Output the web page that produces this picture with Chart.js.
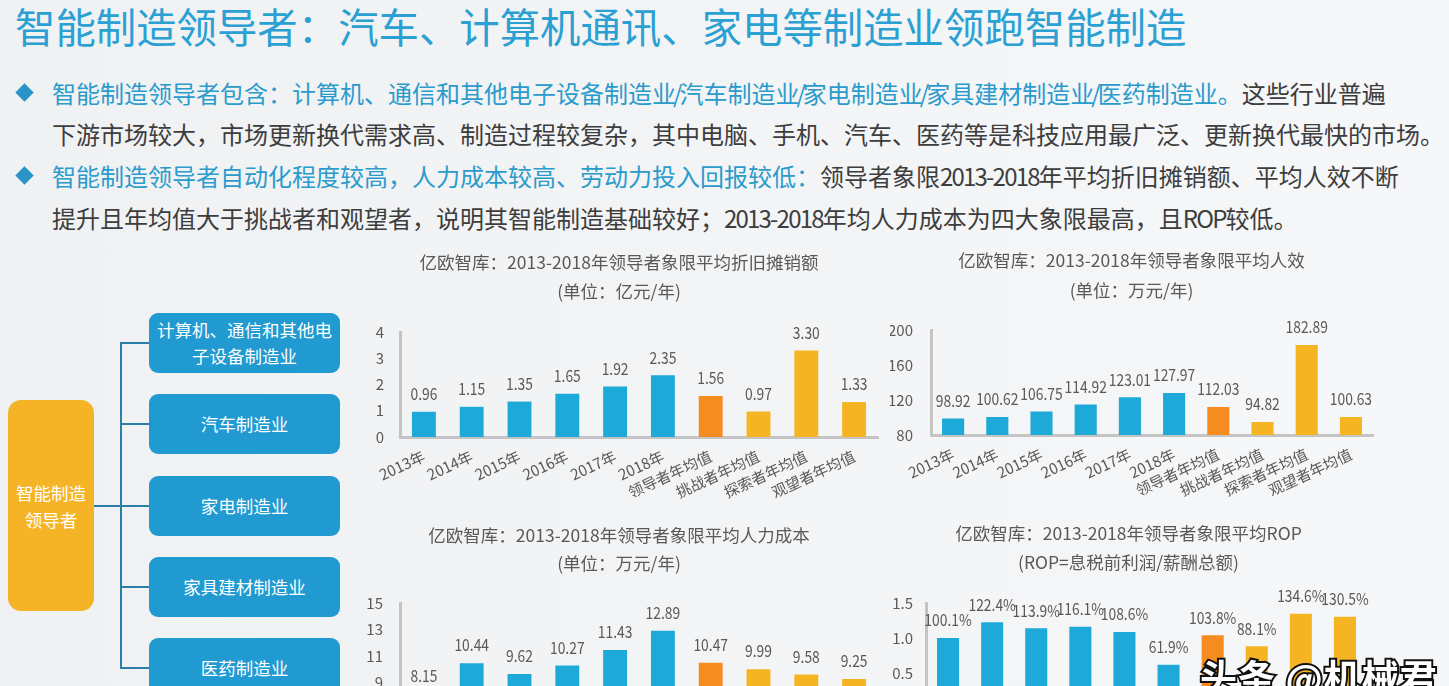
<!DOCTYPE html>
<html>
<head>
<meta charset="utf-8">
<script src="https://cdn.jsdelivr.net/npm/chart.js@4"></script>
<style>
  html, body { margin: 0; padding: 0; width: 1449px; height: 686px; overflow: hidden; }
  body {
    position: relative;
    background: linear-gradient(to right, #eff1f3, #f6f7f9);
    font-family: "Noto Sans CJK SC", sans-serif;
  }
  .abs { position: absolute; }
  .head { left: 15px; top: 0; height: 52px; line-height: 52px; font-size: 40.4px; color: #2aa0d3; white-space: nowrap; }
  .line { left: 52px; height: 42px; line-height: 42px; font-size: 24px; color: #3d3d3d; white-space: nowrap; }
  .line .hl { color: #2b9bcc; }
  .line .sl { margin: 0 -3px; }
  .line .nm { letter-spacing: -1.8px; }
  .dia { left: 18px; width: 13px; height: 13px; background: #2a93c8; transform: rotate(45deg); }
  .box { left: 149px; width: 191px; height: 60px; border-radius: 9px; background: #219ad1; color: #fff;
         font-size: 17.5px; display: flex; align-items: center; justify-content: center; text-align: center; line-height: 26px; }
  .root { left: 8px; top: 400px; width: 86px; height: 211px; border-radius: 13px; background: #f5b425; color: #fff;
          font-size: 17.5px; line-height: 27px; display: flex; align-items: center; justify-content: center; text-align: center; }
  .ln { background: #2b7fa6; }
  .cw { position: absolute; }
  .mark { left: 1200px; top: 649px; font-size: 37px; font-weight: bold; color: #fff; white-space: nowrap;
          -webkit-text-stroke: 4px #111; paint-order: stroke fill; letter-spacing: 1px; }
</style>
</head>
<body>
<div class="abs head">智能制造领导者：汽车、计算机通讯、家电等制造业领跑智能制造</div>

<div class="abs dia" style="top:86px"></div>
<div class="abs line" style="top:72px"><span class="hl">智能制造领导者包含：计算机、通信和其他电子设备制造业<span class="sl">/</span>汽车制造业<span class="sl">/</span>家电制造业<span class="sl">/</span>家具建材制造业<span class="sl">/</span>医药制造业。</span>这些行业普遍</div>
<div class="abs line" style="top:113px">下游市场较大，市场更新换代需求高、制造过程较复杂，其中电脑、手机、汽车、医药等是科技应用最广泛、更新换代最快的市场。</div>
<div class="abs dia" style="top:169px"></div>
<div class="abs line" style="top:155px"><span class="hl">智能制造领导者自动化程度较高，人力成本较高、劳动力投入回报较低：</span>领导者象限<span class="nm">2013-2018</span>年平均折旧摊销额、平均人效不断</div>
<div class="abs line" style="top:197px">提升且年均值大于挑战者和观望者，说明其智能制造基础较好；<span class="nm">2013-2018</span>年均人力成本为四大象限最高，且<span class="nm">ROP</span>较低。</div>

<!-- tree on the left -->
<div class="abs ln" style="left:94px; top:505px; width:28px; height:2px"></div>
<div class="abs ln" style="left:120px; top:342px; width:2px; height:327px"></div>
<div class="abs ln" style="left:120px; top:342px; width:29px; height:2px"></div>
<div class="abs ln" style="left:120px; top:423px; width:29px; height:2px"></div>
<div class="abs ln" style="left:120px; top:505px; width:29px; height:2px"></div>
<div class="abs ln" style="left:120px; top:586px; width:29px; height:2px"></div>
<div class="abs ln" style="left:120px; top:667px; width:29px; height:2px"></div>
<div class="abs root">智能制造<br>领导者</div>
<div class="abs box" style="top:313px">计算机、通信和其他电<br>子设备制造业</div>
<div class="abs box" style="top:394px">汽车制造业</div>
<div class="abs box" style="top:476px">家电制造业</div>
<div class="abs box" style="top:557px">家具建材制造业</div>
<div class="abs box" style="top:638px">医药制造业</div>

<div class="cw" style="left:360px; top:240px; width:540px; height:277px"><canvas id="c1"></canvas></div>
<div class="cw" style="left:890px; top:240px; width:506px; height:275px"><canvas id="c2"></canvas></div>
<div class="cw" style="left:360px; top:510px; width:522px; height:305px"><canvas id="c3"></canvas></div>
<div class="cw" style="left:890px; top:510px; width:510px; height:278px"><canvas id="c4"></canvas></div>

<div class="abs mark">头条 @机械君</div>

<script>
// data
const categories = ['2013年', '2014年', '2015年', '2016年', '2017年', '2018年',
                    '领导者年均值', '挑战者年均值', '探索者年均值', '观望者年均值'];
const depreciation = [0.96, 1.15, 1.35, 1.65, 1.92, 2.35, 1.56, 0.97, 3.30, 1.33];   // 亿元/年
const efficiency = [98.92, 100.62, 106.75, 114.92, 123.01, 127.97, 112.03, 94.82, 182.89, 100.63]; // 万元/年
const laborCost = [8.15, 10.44, 9.62, 10.27, 11.43, 12.89, 10.47, 9.99, 9.58, 9.25]; // 万元/年
const rop = [1.001, 1.224, 1.139, 1.161, 1.086, 0.619, 1.038, 0.881, 1.346, 1.305];

const BLUE = '#1daad9', ORANGE = '#f68b1f', YELLOW = '#f5b523';
const barColors = categories.map((c, i) => i < 6 ? BLUE : (i == 6 ? ORANGE : YELLOW));
const GREY = '#595959';

Chart.defaults.font.family = '"Noto Sans CJK SC", sans-serif';

// numbers above the bars (the slide uses a narrow face, so squeeze a little)
const valueLabels = {
    id: 'valueLabels',
    afterDatasetsDraw(chart, args, opts) {
        const ctx = chart.ctx;
        const meta = chart.getDatasetMeta(0);
        const vals = chart.data.datasets[0].data;
        ctx.save();
        ctx.font = '16.5px "Noto Sans CJK SC"';
        ctx.fillStyle = GREY;
        ctx.textAlign = 'center';
        ctx.textBaseline = 'middle';
        meta.data.forEach((bar, i) => {
            let txt = opts.percent ? (vals[i] * 100).toFixed(1) + '%' : vals[i].toFixed(2);
            ctx.save();
            ctx.translate(bar.x, bar.y - 18);
            ctx.scale(0.84, 1);
            ctx.fillText(txt, 0, 0);
            ctx.restore();
        });
        ctx.restore();
    }
};

function makeChart(id, values, s) {
    const ctx = document.getElementById(id).getContext('2d');
    return new Chart(ctx, {
        type: 'bar',
        data: {
            labels: categories,
            datasets: [{
                data: values,
                backgroundColor: barColors,
                barPercentage: 0.5,
                categoryPercentage: 1
            }]
        },
        options: {
            responsive: true,
            maintainAspectRatio: false,
            animation: false,
            layout: { padding: { left: 0, right: s.padRight, top: 0, bottom: 0 } },
            plugins: {
                legend: { display: false },
                tooltip: { enabled: false },
                title: {
                    display: true, text: s.title, color: GREY,
                    font: { size: 17.5, weight: 'normal', lineHeight: 1.2 },
                    padding: { top: s.tPad, bottom: 0 }
                },
                subtitle: {
                    display: true, text: s.sub, color: GREY,
                    font: { size: 17.5, lineHeight: 1.2 },
                    padding: { top: s.sPad[0], bottom: s.sPad[1] }
                },
                valueLabels: { percent: !!s.percent }
            },
            scales: {
                x: {
                    grid: { display: false, drawTicks: false },
                    border: { color: '#c4c4c4', width: 3 },
                    ticks: { color: GREY, font: { size: 15 }, minRotation: 25, maxRotation: 25, autoSkip: false, padding: 10 },
                    afterFit: (sc) => { sc.height = 80; }
                },
                y: {
                    min: s.min, max: s.max,
                    grid: { display: false, drawTicks: false },
                    border: { color: '#c4c4c4', width: 3 },
                    ticks: {
                        stepSize: s.step, color: GREY, font: { size: 15 }, padding: s.tickPad,
                        callback: s.percent ? (v) => v.toFixed(1) : (v) => v
                    },
                    afterFit: (sc) => { sc.width = s.axisW; }
                }
            }
        },
        plugins: [valueLabels]
    });
}

makeChart('c1', depreciation, {
    title: '亿欧智库：2013-2018年领导者象限平均折旧摊销额', sub: '(单位：亿元/年)',
    min: 0, max: 4, step: 1, axisW: 40, padRight: 22, tickPad: 16, tPad: 11.5, sPad: [8, 30.5]
});
makeChart('c2', efficiency, {
    title: '亿欧智库：2013-2018年领导者象限平均人效', sub: '(单位：万元/年)',
    min: 80, max: 200, step: 40, axisW: 41, padRight: 23, tickPad: 18, tPad: 9.5, sPad: [9, 29.5]
});
makeChart('c3', laborCost, {
    title: '亿欧智库：2013-2018年领导者象限平均人力成本', sub: '(单位：万元/年)',
    min: 5, max: 15, step: 2, axisW: 40, padRight: 4, tickPad: 17, tPad: 14.5, sPad: [7, 29.5]
});
makeChart('c4', rop, {
    title: '亿欧智库：2013-2018年领导者象限平均ROP', sub: '(ROP=息税前利润/薪酬总额)',
    min: 0, max: 1.5, step: 0.5, axisW: 36, padRight: 33, tickPad: 13, tPad: 12.5, sPad: [8, 30.5], percent: true
});
</script>
</body>
</html>
